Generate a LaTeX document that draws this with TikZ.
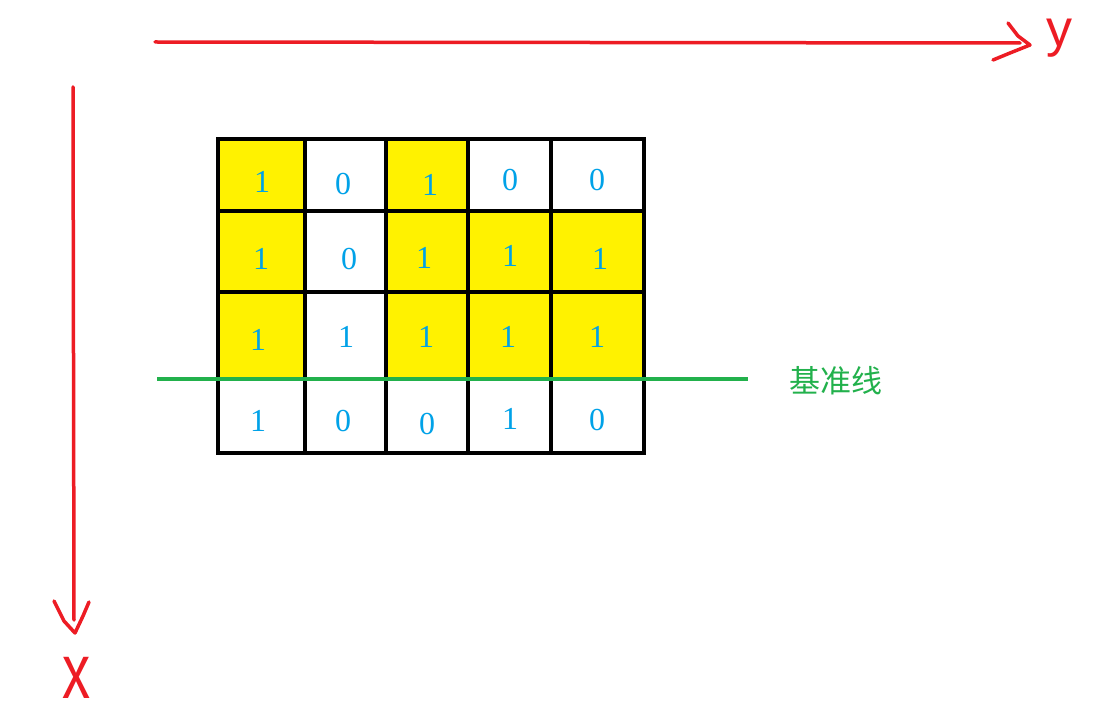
\documentclass[tikz,border=0pt]{standalone}
\usepackage{fontspec}
\setmainfont{Liberation Serif}
\newfontfamily\cjk{Noto Sans CJK SC}
\newfontfamily\hand{Liberation Sans}
\definecolor{pRed}{RGB}{237,28,36}
\definecolor{pGreen}{RGB}{34,177,76}
\definecolor{pYellow}{RGB}{255,242,0}
\definecolor{pBlue}{RGB}{0,162,232}
\begin{document}
\begin{tikzpicture}[x=1pt,y=-1pt,
  gridline/.style={line width=4pt,black,line cap=rect},
  axisline/.style={line width=3.5pt,pRed,line cap=round,line join=round},
  baseline/.style={line width=3.5pt,pGreen},
  yel/.style={fill=pYellow},
  digit/.style={text=pBlue,font=\fontsize{32}{32}\selectfont,inner sep=0pt},
  axislabel/.style={text=pRed,font=\hand\fontsize{52}{52}\selectfont,inner sep=0pt},
  baselabel/.style={text=pGreen,font=\cjk\fontsize{31}{31}\selectfont,inner sep=0pt}]
\useasboundingbox[fill=white] (0,0) rectangle (1120,722);
% yellow cells
\fill[yel] (218,139) rectangle (305,211);
\fill[yel] (386,139) rectangle (468,211);
\fill[yel] (218,211) rectangle (305,292);
\fill[yel] (386,211) rectangle (644,292);
\fill[yel] (218,292) rectangle (305,379);
\fill[yel] (386,292) rectangle (644,379);
% grid
\draw[gridline] (218,139) rectangle (644,453);
\foreach \x in {305,386,468,551} \draw[gridline] (\x,139) -- (\x,453);
\foreach \y in {211,292} \draw[gridline] (218,\y) -- (644,\y);
% digits
\node[digit] (d11) at (262,182) {1};
\node[digit] (d12) at (343,184) {0};
\node[digit] (d13) at (430,185) {1};
\node[digit] (d14) at (510,180) {0};
\node[digit] (d15) at (597,180) {0};
\node[digit] (d21) at (261,259) {1};
\node[digit] (d22) at (349,259) {0};
\node[digit] (d23) at (424,258) {1};
\node[digit] (d24) at (510,256) {1};
\node[digit] (d25) at (600,259) {1};
\node[digit] (d31) at (258,340) {1};
\node[digit] (d32) at (346,337) {1};
\node[digit] (d33) at (426,337) {1};
\node[digit] (d34) at (508,337) {1};
\node[digit] (d35) at (597,337) {1};
\node[digit] (d41) at (258,421) {1};
\node[digit] (d42) at (343,421) {0};
\node[digit] (d43) at (427,424) {0};
\node[digit] (d44) at (510,419) {1};
\node[digit] (d45) at (597,420) {0};
% base line
\coordinate (gl) at (157,379);
\coordinate (gr) at (748,379);
\draw[baseline] (gl) -- (gr);
\node[baselabel] (bl) at (836,381) {基准线};
% y axis (horizontal)
\coordinate (ys) at (155,42);
\coordinate (ye) at (1020,43);
\draw[axisline] (ys) -- (ye);
\draw[axisline] (1008,23) -- (1018,36) -- (1030,45) -- (1010,53) -- (993,60);
\node[axislabel,anchor=base] (ylab) at (1059,47) {y};
% x axis (vertical)
\coordinate (xs) at (73,87);
\coordinate (xe) at (74,620);
\draw[axisline] (xs) -- (xe);
\draw[axisline] (54,601) -- (64,621) -- (75,633) -- (83,616) -- (89,602);
\node[axislabel,font=\hand\fontsize{78}{78}\selectfont,xscale=0.72,anchor=base] (xlab) at (77,698) {x};
\end{tikzpicture}
\end{document}
